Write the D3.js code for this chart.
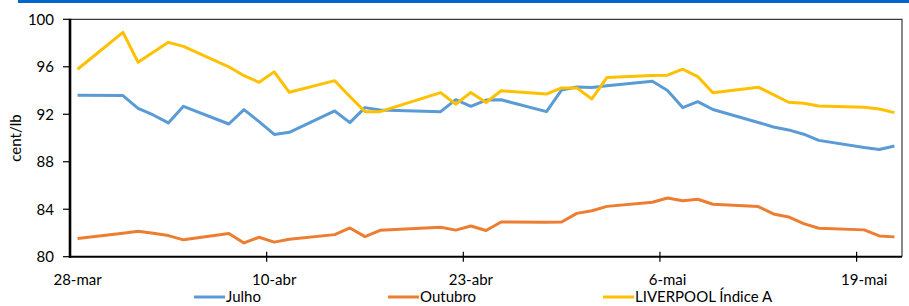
<!DOCTYPE html>
<html>
<head>
<meta charset="utf-8">
<script src="https://cdn.jsdelivr.net/npm/d3@7"></script>
<style>
  body { margin: 0; background: #fff; }
  svg { display: block; font-family: Lato, "Open Sans", sans-serif; }
</style>
</head>
<body>
<svg id="chart" width="909" height="306"></svg>
<script>
// trading days (2014)
const dates = ["2014-03-28","2014-03-31","2014-04-01","2014-04-02","2014-04-03","2014-04-04",
  "2014-04-07","2014-04-08","2014-04-09","2014-04-10","2014-04-11","2014-04-14","2014-04-15",
  "2014-04-16","2014-04-17","2014-04-21","2014-04-22","2014-04-23","2014-04-24","2014-04-25",
  "2014-04-28","2014-04-29","2014-04-30","2014-05-01","2014-05-02","2014-05-05","2014-05-06",
  "2014-05-07","2014-05-08","2014-05-09","2014-05-12","2014-05-13","2014-05-14","2014-05-15",
  "2014-05-16","2014-05-19","2014-05-20","2014-05-21"]

const julho = [93.6, 93.57, 92.5, 91.94, 91.27, 92.67, 91.18, 92.39, 91.38, 90.3, 90.48, 92.28, 91.3,
  92.56, 92.36, 92.22, 93.23, 92.67, 93.2, 93.22, 92.22, 94.05, 94.3, 94.25, 94.41, 94.78, 94.0,
  92.56, 93.06, 92.4, 91.31, 90.93, 90.68, 90.32, 89.8, 89.2, 89.03, 89.32]

const outubro = [81.53, 81.98, 82.15, 81.98, 81.78, 81.42, 81.95, 81.16, 81.64, 81.23, 81.47, 81.86, 82.42,
  81.69, 82.22, 82.48, 82.24, 82.59, 82.21, 82.92, 82.9, 82.92, 83.65, 83.87, 84.24, 84.59, 84.94,
  84.72, 84.84, 84.42, 84.22, 83.6, 83.35, 82.79, 82.4, 82.26, 81.75, 81.67]

const liverpool = [95.79, 98.9, 96.38, 97.22, 98.06, 97.72, 96.0, 95.25, 94.69, 95.57, 93.85, 94.83, 93.5,
  92.22, 92.22, 93.82, 92.84, 93.84, 92.99, 93.98, 93.7, 94.22, 94.22, 93.29, 95.1, 95.27, 95.29,
  95.8, 95.17, 93.82, 94.28, 93.65, 93.01, 92.93, 92.7, 92.59, 92.44, 92.14]

const tickDates = ["2014-03-28","2014-04-10","2014-04-23","2014-05-06","2014-05-19"]
const tickLabels = ["28-mar","10-abr","23-abr","6-mai","19-mai"]
const yTicks = [80, 84, 88, 92, 96, 100]

const series = [
  {name: "Julho", values: julho, color: "#5b9bd5"},
  {name: "Outubro", values: outubro, color: "#ed7d31"},
  {name: "LIVERPOOL Índice A", values: liverpool, color: "#ffc000"}
]

const svg = d3.select("#chart")
const parse = d3.utcParse("%Y-%m-%d")
const halfDay = 12 * 3600 * 1000

const x = d3.scaleUtc()
  .domain([parse("2014-03-28"), parse("2014-05-22")])
  .range([70, 902])
const y = d3.scaleLinear()
  .domain([80, 100])
  .range([256.7, 19.3])

// blue bar on top
svg.append("rect")
  .attr("x", 18).attr("y", 0)
  .attr("width", 891).attr("height", 3)
  .attr("fill", "#0066cc")

// plot frame (top and right)
svg.append("path")
  .attr("d", `M70,${y(100)}H902V${y(80)}`)
  .attr("fill", "none")
  .attr("stroke", "#3a3a3a")
  .attr("stroke-width", 1.2)

// lines
const line = d3.line()
  .x((d, i) => x(new Date(parse(dates[i]).getTime() + halfDay)))
  .y(d => y(d))

svg.append("g")
  .selectAll("path")
  .data(series)
  .join("path")
    .attr("d", d => line(d.values))
    .attr("fill", "none")
    .attr("stroke", d => d.color)
    .attr("stroke-width", 3)
    .attr("stroke-linejoin", "round")

// y axis
const yAxis = svg.append("g")
yAxis.selectAll("line")
  .data(yTicks)
  .join("line")
    .attr("x1", 63).attr("x2", 70)
    .attr("y1", d => y(d)).attr("y2", d => y(d))
    .attr("stroke", "#000").attr("stroke-width", 1.2)
yAxis.selectAll("text")
  .data(yTicks)
  .join("text")
    .attr("x", 54)
    .attr("y", d => y(d))
    .attr("dy", "0.36em")
    .attr("text-anchor", "end")
    .attr("font-size", 15)
    .attr("fill", "#000")
    .text(d => d)
yAxis.append("line")
  .attr("x1", 70).attr("x2", 70)
  .attr("y1", y(100) - 0.5).attr("y2", y(80) + 1)
  .attr("stroke", "#000").attr("stroke-width", 2.6)

svg.append("text")
  .attr("transform", `translate(21,${(y(80) + y(100)) / 2}) rotate(-90)`)
  .attr("text-anchor", "middle")
  .attr("font-size", 15)
  .text("cent/lb")

// x axis
const xAxis = svg.append("g")
xAxis.append("line")
  .attr("x1", 69).attr("x2", 902)
  .attr("y1", y(80)).attr("y2", y(80))
  .attr("stroke", "#000").attr("stroke-width", 2)
xAxis.selectAll("line.tick")
  .data(tickDates.slice(1))
  .join("line")
    .attr("class", "tick")
    .attr("x1", d => x(parse(d))).attr("x2", d => x(parse(d)))
    .attr("y1", y(80) - 5).attr("y2", y(80) + 5)
    .attr("stroke", "#000").attr("stroke-width", 1.2)
xAxis.selectAll("text")
  .data(tickDates)
  .join("text")
    .attr("x", d => x(new Date(parse(d).getTime() + halfDay)))
    .attr("y", 285)
    .attr("text-anchor", "middle")
    .attr("font-size", 15)
    .text((d, i) => tickLabels[i])

// legend
const legendX = [194, 388, 603]
const legend = svg.append("g")
  .selectAll("g")
  .data(series)
  .join("g")
    .attr("transform", (d, i) => `translate(${legendX[i]},297)`)
legend.append("line")
  .attr("x1", 0).attr("x2", 31)
  .attr("stroke", d => d.color)
  .attr("stroke-width", 3)
legend.append("text")
  .attr("x", 32)
  .attr("dy", "0.36em")
  .attr("font-size", 15)
  .text(d => d.name)
</script>
</body>
</html>
